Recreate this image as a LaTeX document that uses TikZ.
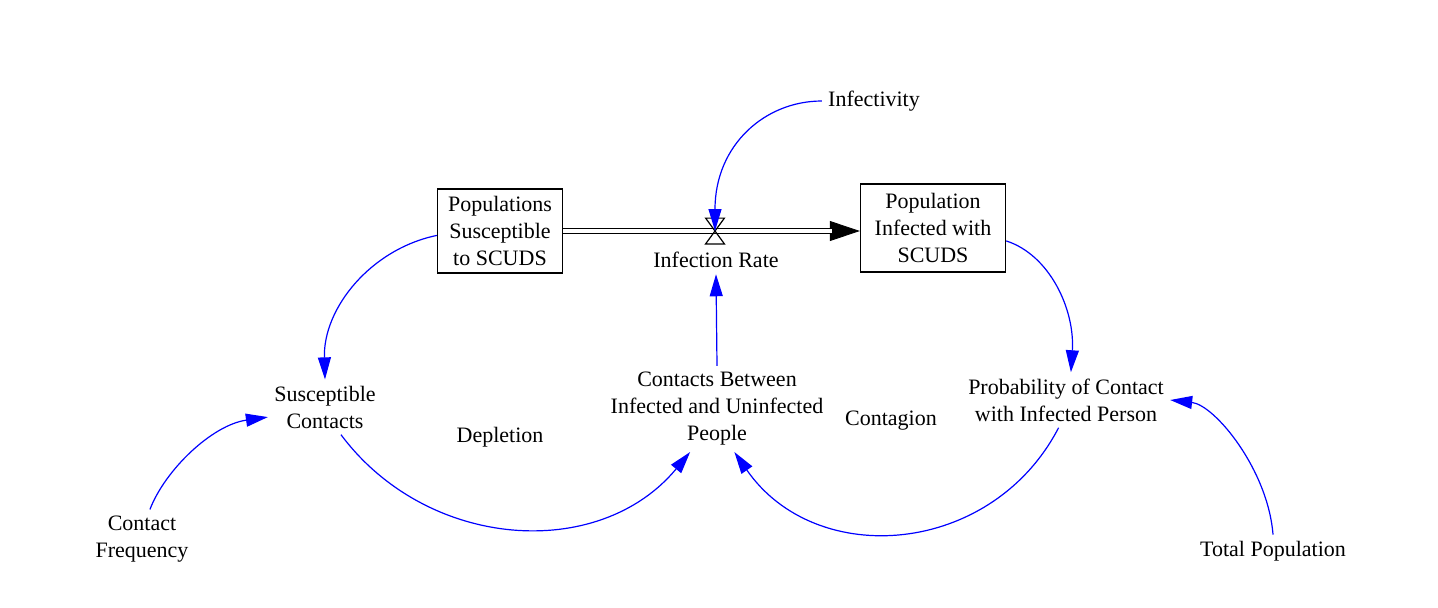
\documentclass[tikz,border=0pt]{standalone}
\usepackage{fontspec}
\setmainfont{Liberation Serif}
\usetikzlibrary{arrows.meta, positioning}

\begin{document}
\begin{tikzpicture}[x=0.5pt,y=-0.5pt,
  var/.style={align=center, inner sep=3pt, font=\fontsize{11}{13.5}\selectfont},
  stock/.style={var, draw, line width=0.7pt},
  link/.style={blue, line width=0.6pt, -{Triangle[length=11pt,width=6.5pt]}},
  pipe/.style={double, double distance=2pt, line width=0.6pt},
  valvebox/.style={minimum width=9pt, minimum height=12.5pt, inner sep=0pt}]
\useasboundingbox (0,0) rectangle (1438,607);
%stocks
\node[stock, minimum width=62.5pt, minimum height=42pt] (popS) at (500,231) {Populations\\Susceptible\\to SCUDS};
\node[stock, minimum width=72.5pt, minimum height=44pt] (infI) at (933,228) {Population\\Infected with\\SCUDS};
%flow
\node[valvebox] (valve) at (715,231) {};
\coordinate (tip) at (popS.east -| infI.west);
\draw[-{Triangle[length=15pt,width=10pt]}] ([xshift=-16pt]tip) -- (tip);
\draw[pipe, shorten >=14pt] (popS.east) -- (tip);
\draw[line width=0.6pt] (valve.north west) -- (valve.north east) -- (valve.south west) -- (valve.south east) -- cycle;
\node[var] (irate) at (716,260) {Infection Rate};
%variables
\node[var] (infect) at (874,101) {Infectivity};
\node[var] (susc) at (325,407) {Susceptible\\Contacts};
\node[var] (contF) at (142,539) {Contact\\Frequency};
\node[var] (depl) at (500,437) {Depletion};
\node[var] (contB) at (717,409) {Contacts Between\\Infected and Uninfected\\People};
\node[var] (contag) at (891,421) {Contagion};
\node[var] (prob) at (1066,400) {Probability of Contact\\with Infected Person};
\node[var] (totP) at (1273,551) {Total Population};
%links
\draw[link] (infect.west) .. controls (765,101) and (715,145) .. (valve.center);
\draw[link] (contB.north) -- (irate.south);
\draw[link] (popS.184) .. controls (371,249) and (323,308) .. (susc.north);
\draw[link] (contF.75) .. controls (165,470) and (212,425) .. (susc.190);
\draw[link] (susc.300) .. controls (427,550) and (599,562) .. (contB.238);
\draw[link] (infI.-10) .. controls (1050,255) and (1075,310) .. (prob.80);
\draw[link] (prob.255) .. controls (992,556) and (816,570) .. (contB.292);
\draw[link] (totP.north) .. controls (1268,470) and (1215,405) .. (prob.east);
\end{tikzpicture}
\end{document}
